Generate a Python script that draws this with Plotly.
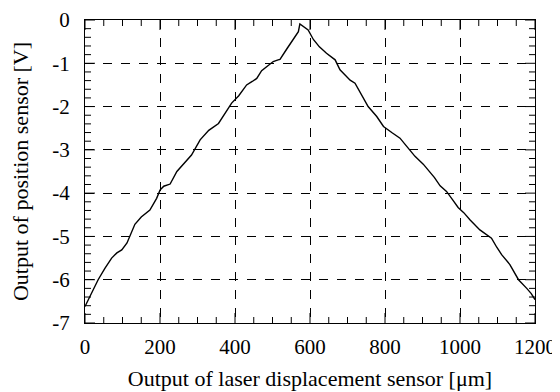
import plotly.graph_objects as go

x_um = [0, 18, 35, 53, 71, 85, 98, 112, 120, 133, 150, 173, 191, 200, 210, 227, 245, 265, 284, 307,
        330, 356, 375, 391, 410, 422, 431, 446, 458, 471, 486, 502, 515, 520, 538, 550, 560, 569, 573,
        587, 595, 609, 625, 644, 667, 680, 707, 720, 733, 755, 778, 796, 818, 840, 858, 880, 902, 915,
        932, 947, 964, 980, 995, 1010, 1027, 1053, 1070, 1084, 1098, 1111, 1133, 1156, 1178, 1190, 1200]
v_out = [-6.62, -6.30, -6.00, -5.74, -5.50, -5.38, -5.31, -5.15, -5.00, -4.72, -4.55, -4.39, -4.12, -3.93, -3.84, -3.79, -3.50, -3.31, -3.12, -2.77,
         -2.55, -2.39, -2.15, -1.92, -1.75, -1.62, -1.50, -1.42, -1.35, -1.17, -1.06, -0.96, -0.92, -0.91, -0.67, -0.52, -0.38, -0.27, -0.09,
         -0.19, -0.23, -0.45, -0.62, -0.77, -0.92, -1.15, -1.39, -1.46, -1.65, -2.00, -2.23, -2.46, -2.60, -2.73, -2.92, -3.15, -3.33, -3.46,
         -3.64, -3.83, -3.96, -4.15, -4.33, -4.45, -4.62, -4.85, -4.95, -5.04, -5.25, -5.42, -5.65, -6.00, -6.20, -6.32, -6.46]

x_tickvals = [0, 200, 400, 600, 800, 1000, 1200]
x_ticktext = ["0", "200", "400", "600", "800", "1000", "1200"]
y_tickvals = [0, -1, -2, -3, -4, -5, -6, -7]
y_ticktext = ["0", "-1", "-2", "-3", "-4", "-5", "-6", "-7"]

x_minor_step = 50
y_minor_step = 0.2

font_family = "Liberation Serif, Times New Roman, serif"

fig = go.Figure()
fig.add_trace(go.Scatter(x=x_um, y=v_out, mode="lines",
                         line=dict(color="black", width=1.4), showlegend=False,
                         hoverinfo="skip"))

fig.update_layout(
    xaxis=dict(
        range=[0, 1200], tickmode="array", tickvals=x_tickvals, ticktext=x_ticktext,
        showline=True, linecolor="black", mirror=True, ticks="",
        showgrid=True, gridcolor="black", griddash="dash", zeroline=False,
        ticklabelstandoff=5, automargin=False,
        tickfont=dict(family=font_family, size=21, color="black"),
        title=dict(text="Output of laser displacement sensor [μm]",
                   font=dict(family=font_family, size=22, color="black"), standoff=12),
    ),
    yaxis=dict(
        range=[-7, 0], tickmode="array", tickvals=y_tickvals, ticktext=y_ticktext,
        showline=True, linecolor="black", mirror=True, ticks="",
        showgrid=True, gridcolor="black", griddash="dash", zeroline=False,
        ticklabelstandoff=10, automargin=False,
        tickfont=dict(family=font_family, size=21, color="black"),
        title=dict(text="Output of position sensor [V]",
                   font=dict(family=font_family, size=22, color="black"), standoff=17),
    ),
    width=552, height=384,
    margin=dict(l=77, r=25, t=12, b=69),
    plot_bgcolor="white", paper_bgcolor="white",
)

# inside tick marks on all four sides (major longer, minor shorter), drawn as axis-anchored shapes
tick_line = dict(color="black", width=1)
n_x = int(round(1200 / x_minor_step))
for i in range(n_x + 1):
    xv = i * x_minor_step
    ln = 10 if xv in x_tickvals else 6
    for anchor, sign in ((0, 1), (1, -1)):
        fig.add_shape(type="line", xref="x", yref="y domain", ysizemode="pixel",
                      yanchor=anchor, x0=xv, x1=xv, y0=0, y1=sign * ln, line=tick_line)
n_y = int(round(7 / y_minor_step))
for i in range(n_y + 1):
    yv = round(-i * y_minor_step, 6)
    ln = 10 if any(abs(yv - t) < 1e-6 for t in y_tickvals) else 6
    for anchor, sign in ((0, 1), (1, -1)):
        fig.add_shape(type="line", xref="x domain", yref="y", xsizemode="pixel",
                      xanchor=anchor, x0=0, x1=sign * ln, y0=yv, y1=yv, line=tick_line)

fig.write_html("out.html")
